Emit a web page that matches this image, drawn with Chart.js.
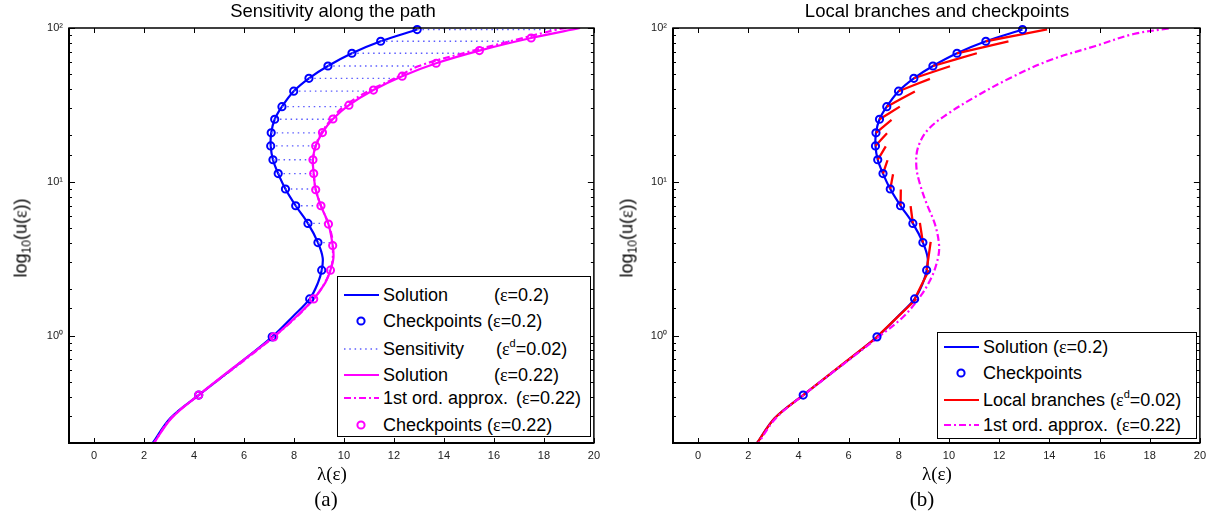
<!DOCTYPE html>
<html>
<head>
<meta charset="utf-8">
<script src="https://cdn.jsdelivr.net/npm/chart.js@4.4.0/dist/chart.umd.min.js"></script>
<style>
  body { margin: 0; background: #fff; width: 1212px; height: 518px; overflow: hidden; position: relative;
         font-family: "Liberation Sans", Arial, sans-serif; color: #000; }
  canvas { position: absolute; top: 0; }
  .txt { position: absolute; white-space: pre; }
  .ttl { font-size: 18.5px; transform: translateX(-50%); top: 0px; }
  .xl { font-family: "Liberation Serif", "Times New Roman", serif; font-size: 19px; transform: translateX(-50%); top: 463px; }
  .pl { font-family: "Liberation Serif", "Times New Roman", serif; font-size: 21px; transform: translateX(-50%); top: 487px; }
  .yl { font-size: 18px; transform: translate(-50%, -50%) rotate(-90deg); top: 238px; }
  .eps { font-family: "Liberation Serif", "Times New Roman", serif; }
  .leg { position: absolute; border: 1px solid #000; background: #fff; box-sizing: border-box; }
  .row { position: absolute; left: 0; height: 20px; font-size: 18px; line-height: 20px; white-space: pre; }
  .row svg { position: absolute; left: 6px; top: 3px; }
  sup { font-size: 11px; vertical-align: 8px; line-height: 0; }
  sub { font-size: 12px; vertical-align: -4px; line-height: 0; }
</style>
</head>
<body>
<canvas id="chartA" width="606" height="518" style="left:0"></canvas>
<canvas id="chartB" width="606" height="518" style="left:606px"></canvas>

<div class="txt ttl" style="left:333px">Sensitivity along the path</div>
<div class="txt ttl" style="left:937px">Local branches and checkpoints</div>
<div class="txt xl" style="left:332px">λ(ε)</div>
<div class="txt xl" style="left:937px">λ(ε)</div>
<div class="txt pl" style="left:326px">(a)</div>
<div class="txt pl" style="left:922px">(b)</div>
<div class="txt yl" style="left:21px">log<sub>10</sub>(u(<span class="eps">ε</span>))</div>
<div class="txt yl" style="left:627px">log<sub>10</sub>(u(<span class="eps">ε</span>))</div>

<div class="leg" id="legA" style="left:337px; top:276px; width:254px; height:161px"></div>
<div class="leg" id="legB" style="left:937px; top:332px; width:260px; height:107px"></div>

<script>
// checkpoints on the eps=0.2 solution (top to bottom)
const cpLam = [12.93, 11.47, 10.32, 9.36, 8.60, 7.99, 7.52, 7.23, 7.09, 7.07, 7.16, 7.37, 7.66, 8.07, 8.56, 8.96, 9.11, 8.63, 7.13, 4.19];
const cpU   = [97.7, 82, 68.5, 56.6, 47.1, 38.8, 30.8, 25.5, 20.8, 17.1, 13.9, 11.3, 8.97, 6.98, 5.36, 4.02, 2.66, 1.73, 0.98, 0.41];

// solution eps=0.2 (bottom to top)
const solLam = [2.35, 3.05, 4.19, 5.66, 7.13, 7.96, 8.63, 8.96, 9.11, 9.15, 8.96, 8.56, 8.07, 7.66, 7.37, 7.16, 7.07, 7.09, 7.23, 7.52, 7.99, 8.60, 9.36, 10.32, 11.47, 12.93];
const solU   = [0.2, 0.29, 0.41, 0.63, 0.98, 1.33, 1.73, 2.2, 2.66, 3.2, 4.02, 5.36, 6.98, 8.97, 11.3, 13.9, 17.1, 20.8, 25.5, 30.8, 38.8, 47.1, 56.6, 68.5, 82, 97.7];

// solution eps=0.22 (bottom to top)
const sol2Lam = [2.4, 3.1, 4.19, 5.7, 7.19, 8.1, 8.79, 9.25, 9.46, 9.58, 9.55, 9.38, 9.08, 8.87, 8.79, 8.76, 8.87, 9.14, 9.56, 10.20, 11.18, 12.33, 13.69, 15.42, 17.49, 19.45];
const sol2U   = [0.2, 0.29, 0.41, 0.64, 0.98, 1.33, 1.73, 2.2, 2.66, 3.2, 3.85, 5.31, 6.98, 8.87, 11.3, 13.9, 17.1, 20.9, 25.6, 31.5, 39.5, 48.6, 59.0, 71.3, 86.1, 100];

// checkpoints eps=0.22
const cp2Lam = [17.49, 15.42, 13.69, 12.33, 11.18, 10.20, 9.56, 9.14, 8.87, 8.76, 8.79, 8.87, 9.08, 9.38, 9.55, 9.46, 8.79, 7.19, 4.19];
const cp2U   = [86.1, 71.3, 59.0, 48.6, 39.5, 31.5, 25.6, 20.9, 17.1, 13.9, 11.3, 8.87, 6.98, 5.31, 3.85, 2.66, 1.73, 0.98, 0.41];

// 1st order approx (panel a) at the checkpoint levels cpU, plus ends
const sensLam = [18.52, 16.65, 14.77, 13.0, 12.04, 10.96, 9.99, 9.5, 9.1, 8.87, 8.76, 8.79, 8.87, 9.08, 9.37, 9.55, 9.46, 8.79, 7.19, 4.19];
const approxTop = [18.9, 100];
const approxBottom = [[3.08, 0.29], [2.4, 0.2]];

// 1st order approx (panel b)
const apxBLam = [18.76, 17.36, 15.84, 14.04, 12.44, 11.04, 9.96, 9.16, 8.76, 8.70, 8.84, 9.11, 9.44, 9.60, 9.57, 9.31, 8.84, 8.17, 7.2, 4.2, 3.1, 2.4];
const apxBU   = [99.3, 91.4, 76.4, 61.9, 47.3, 35.6, 27.7, 21.8, 16.6, 12.5, 9.7, 7.2, 5.3, 3.95, 3.24, 2.40, 1.78, 1.32, 0.98, 0.41, 0.29, 0.2];

// local branches: start at checkpoint k (k = 1..19 of cpLam), end points below
const brEndLam = [13.91, 12.37, 11.11, 10.04, 9.24, 8.64, 8.04, 7.71, 7.53, 7.48, 7.55, 7.77, 8.08, 8.47, 8.84, 9.27, 9.2, 8.7, 7.15];
const brEndU   = [98, 81.8, 68.5, 56.4, 46.7, 38.6, 30.8, 25.3, 20.7, 17.0, 13.8, 11.2, 8.9, 6.95, 5.4, 4.06, 2.66, 1.73, 0.98];
const brFirstLam = [2.35, 3.05, 4.19];
const brFirstU   = [0.2, 0.29, 0.41];

const xTicks = [0, 2, 4, 6, 8, 10, 12, 14, 16, 18, 20];

const BLUE = '#0000ff', MAG = '#ff00ff', RED = '#ff0000', SENS = '#5c5cff';
const pts = (xs, ys) => xs.map((v, i) => ({ x: v, y: ys[i] }));

Chart.defaults.font.family = '"Liberation Sans", Arial, sans-serif';
Chart.defaults.color = '#222';

const supDigits = { '0': '⁰', '1': '¹', '2': '²', '-': '⁻' };

function frameTicks() {
  return {
    id: 'frameTicks',
    afterDraw(chart) {
      const ctx = chart.ctx, a = chart.chartArea, x = chart.scales.x, y = chart.scales.y;
      ctx.save();
      ctx.strokeStyle = '#000';
      ctx.lineWidth = 1;
      ctx.beginPath();
      x.ticks.forEach(t => {
        const px = Math.round(x.getPixelForValue(t.value)) + 0.5;
        ctx.moveTo(px, a.bottom); ctx.lineTo(px, a.bottom - 5);
        ctx.moveTo(px, a.top); ctx.lineTo(px, a.top + 5);
      });
      y.ticks.forEach(t => {
        const l = Math.log10(t.value);
        const len = Math.abs(l - Math.round(l)) < 1e-6 ? 6 : 3;
        const py = Math.round(y.getPixelForValue(t.value)) + 0.5;
        ctx.moveTo(a.left, py); ctx.lineTo(a.left + len, py);
        ctx.moveTo(a.right, py); ctx.lineTo(a.right - len, py);
      });
      ctx.stroke();
      ctx.lineWidth = 1.5;
      ctx.strokeRect(a.left, a.top, a.right - a.left, a.bottom - a.top);
      ctx.lineWidth = 2;
      ctx.beginPath();
      ctx.moveTo(a.left, a.top); ctx.lineTo(a.left, a.bottom); ctx.lineTo(a.right, a.bottom);
      ctx.stroke();
      ctx.restore();
    }
  };
}

function scalesFor(yWidth) {
  return {
    x: {
      type: 'linear', min: -1, max: 20,
      afterBuildTicks: s => { s.ticks = xTicks.map(v => ({ value: v })); },
      afterFit: s => { s.height = 75; },
      grid: { display: false, drawTicks: false }, border: { display: false },
      ticks: { padding: 6, font: { size: 11 }, maxRotation: 0, autoSkip: false }
    },
    y: {
      type: 'logarithmic', min: 0.2, max: 100,
      afterFit: s => { s.width = yWidth; },
      grid: { display: false, drawTicks: false }, border: { display: false },
      ticks: {
        padding: 6, font: { size: 11 }, autoSkip: false,
        callback: v => {
          const l = Math.log10(v);
          if (Math.abs(l - Math.round(l)) > 1e-6) return '';
          return '10' + String(Math.round(l)).split('').map(c => supDigits[c]).join('');
        }
      }
    }
  };
}

const lineDs = (data, color, extra) => Object.assign({
  data, showLine: true, borderColor: color, borderWidth: 2.2, pointRadius: 0, tension: 0.35, fill: false
}, extra || {});
const markDs = (data, color) => ({
  data, showLine: false, pointRadius: 3.6, pointBorderWidth: 2, pointBorderColor: color,
  pointBackgroundColor: 'rgba(0,0,0,0)', clip: 10
});

// sensitivity segments (horizontal dotted)
const sensData = [];
cpLam.forEach((v, i) => { sensData.push({ x: v, y: cpU[i] }, { x: sensLam[i], y: cpU[i] }, { x: null, y: null }); });
const approxA = [{ x: approxTop[0], y: approxTop[1] }].concat(
  pts(sensLam, cpU), approxBottom.map(p => ({ x: p[0], y: p[1] })));

new Chart(document.getElementById('chartA'), {
  type: 'scatter',
  data: {
    datasets: [
      markDs(pts(cp2Lam, cp2U), MAG),
      markDs(pts(cpLam, cpU), BLUE),
      lineDs(approxA, MAG, { borderDash: [7, 3, 2, 3] }),
      lineDs(pts(sol2Lam, sol2U), MAG),
      lineDs(sensData, SENS, { borderWidth: 1.3, borderDash: [1.5, 3.8], tension: 0, spanGaps: false }),
      lineDs(pts(solLam, solU), BLUE)
    ]
  },
  options: {
    responsive: false, animation: false, events: [],
    layout: { padding: { top: 28, right: 10, bottom: 0, left: 0 } },
    plugins: { legend: { display: false }, tooltip: { enabled: false } },
    scales: scalesFor(69)
  },
  plugins: [frameTicks()]
});

// local branch segments
const brData = pts(brFirstLam, brFirstU).concat([{ x: null, y: null }]);
brEndLam.forEach((v, i) => { brData.push({ x: cpLam[i + 1], y: cpU[i + 1] }, { x: v, y: brEndU[i] }, { x: null, y: null }); });

new Chart(document.getElementById('chartB'), {
  type: 'scatter',
  data: {
    datasets: [
      markDs(pts(cpLam, cpU), BLUE),
      lineDs(pts(apxBLam, apxBU), MAG, { borderDash: [7, 3, 2, 3] }),
      lineDs(brData, RED, { borderWidth: 2.3, tension: 0.3, spanGaps: false }),
      lineDs(pts(solLam, solU), BLUE)
    ]
  },
  options: {
    responsive: false, animation: false, events: [],
    layout: { padding: { top: 28, right: 11, bottom: 0, left: 0 } },
    plugins: { legend: { display: false }, tooltip: { enabled: false } },
    scales: scalesFor(67)
  },
  plugins: [frameTicks()]
});

// legends
function sample(kind, color) {
  if (kind === 'mark') return `<svg width="36" height="14"><circle cx="17" cy="7" r="3.6" fill="none" stroke="${color}" stroke-width="2"/></svg>`;
  const dash = kind === 'dashdot' ? 'stroke-dasharray="7 3 2 3"' : kind === 'dot' ? 'stroke-dasharray="1.5 3.8"' : '';
  const w = kind === 'dot' ? 1.3 : 2;
  return `<svg width="36" height="14"><line x1="0" y1="7" x2="35" y2="7" stroke="${color}" stroke-width="${w}" ${dash}/></svg>`;
}
function buildLegend(id, rows, textLeft) {
  const box = document.getElementById(id);
  rows.forEach(r => {
    const d = document.createElement('div');
    d.className = 'row';
    d.style.top = (r.y - 10) + 'px';
    d.style.width = '100%';
    d.innerHTML = sample(r.kind, r.color) +
      `<span style="position:absolute;left:${textLeft}px">${r.text}</span>` +
      (r.paren ? `<span style="position:absolute;left:${r.px}px">${r.paren}</span>` : '');
    box.appendChild(d);
  });
}
const E = '<span class="eps">ε</span>';
buildLegend('legA', [
  { y: 18, kind: 'line', color: BLUE, text: 'Solution', paren: `(${E}=0.2)`, px: 156 },
  { y: 44, kind: 'mark', color: BLUE, text: `Checkpoints (${E}=0.2)` },
  { y: 72, kind: 'dot', color: SENS, text: 'Sensitivity', paren: `(${E}<sup>d</sup>=0.02)`, px: 158 },
  { y: 98, kind: 'line', color: MAG, text: 'Solution', paren: `(${E}=0.22)`, px: 156 },
  { y: 121, kind: 'dashdot', color: MAG, text: `1st ord. approx.`, paren: `(${E}=0.22)`, px: 178 },
  { y: 148, kind: 'mark', color: MAG, text: `Checkpoints (${E}=0.22)` }
], 45);
buildLegend('legB', [
  { y: 14, kind: 'line', color: BLUE, text: `Solution (${E}=0.2)` },
  { y: 40, kind: 'mark', color: BLUE, text: 'Checkpoints' },
  { y: 67, kind: 'line', color: RED, text: `Local branches (${E}<sup>d</sup>=0.02)` },
  { y: 92, kind: 'dashdot', color: MAG, text: `1st ord. approx.`, paren: `(${E}=0.22)`, px: 178 }
], 45);
</script>
</body>
</html>
